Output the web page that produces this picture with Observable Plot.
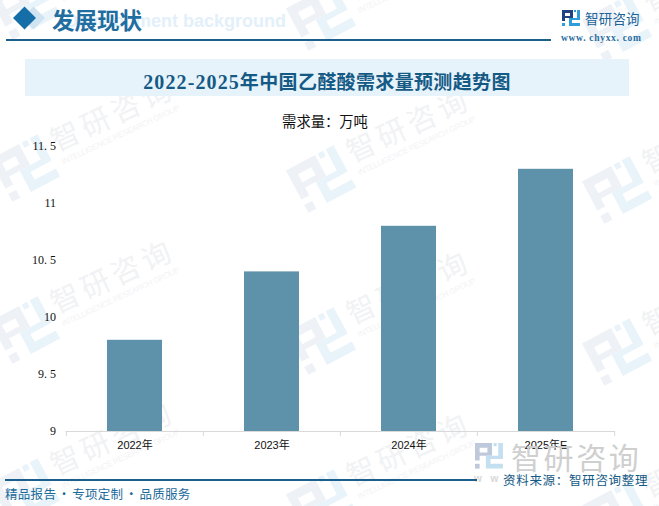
<!DOCTYPE html>
<html><head><meta charset="utf-8">
<script src="https://cdn.jsdelivr.net/npm/d3@7"></script>
<script src="https://cdn.jsdelivr.net/npm/@observablehq/plot@0.6"></script>
<style>
html,body{margin:0;padding:0;background:#fff;}
#page{position:relative;width:659px;height:506px;overflow:hidden;font-family:"Noto Sans CJK SC",sans-serif;}
#page>*{position:absolute;}
#chart{left:0;top:120px;}
#chart svg{background:transparent;display:block;}
</style></head><body>
<div id="page">
<svg id="wmark" width="659" height="506" style="left:0;top:0"></svg>
<div style="left:25px;top:59px;width:604px;height:37px;background:#e6f3fb"></div>
<div style="left:6px;top:39px;width:545px;height:1.5px;background:#1b5f8c"></div>
<div style="left:65px;top:11px;font:700 18px 'Liberation Sans';color:#e3f0fa;white-space:nowrap">Development background</div>
<svg style="left:10px;top:5px" width="40" height="28"><path d="M23.5 1.5 L35 13 L23.5 24.5 L12 13Z" fill="#cfe3f0"/><path d="M14.5 1.5 L26 13 L14.5 24.5 L3 13Z" fill="#156ea8"/></svg>
<div style="left:52px;top:4px;font:700 22.5px/30px 'Noto Sans CJK SC';color:#1f6e9f;white-space:nowrap">发展现状</div>
<div style="left:25px;top:59px;width:604px;text-align:center;font:700 19px/44px 'Noto Sans CJK SC';letter-spacing:.35px;color:#155a85;white-space:nowrap" id="title"><span style="font:700 20px 'Liberation Serif';letter-spacing:1.1px">2022-2025</span>年中国乙醛酸需求量预测趋势图</div>
<svg style="left:562px;top:10px" width="18" height="16"><path d="M0 0H11V8H3V6H8V3H3V11H0Z" fill="#23407f"/><path d="M0 13H3V16H0ZM12 0H14V2H12ZM15 0H18V10H10V13H18V16H7V8H15Z" fill="#2f9ed8"/></svg>
<div style="left:585px;top:9px;font:400 13.5px/18px 'Noto Sans CJK SC';letter-spacing:.2px;color:#1c649a;white-space:nowrap">智研咨询</div>
<div style="left:561px;top:32px;font:700 9.5px/12px 'Liberation Serif';letter-spacing:.7px;color:#2a6d9e;white-space:nowrap">www. chyxx. com</div>
<div style="left:0;top:112px;width:650px;text-align:center;font:400 14.3px/18px 'Noto Sans CJK SC';color:#111;" id="unit">需求量：万吨</div>
<div id="chart"></div>
<svg style="left:475px;top:443px" width="30" height="28"><g transform="scale(1.55,1.6)"><path d="M0 0H11V8H3V6H8V3H3V11H0Z" fill="#bfc9dc"/><path d="M0 13H3V16H0Z" fill="#bfc9dc"/><path d="M12 0H14V2H12ZM15 0H18V10H10V13H18V16H7V8H15Z" fill="#c4dff0"/></g></svg>
<div style="left:511px;top:438px;font:400 30px/36px 'Noto Sans CJK SC';letter-spacing:2.6px;color:#cfcfcf;white-space:nowrap">智研咨询</div>
<div style="left:474px;top:472px;font:700 10px/14px 'Liberation Sans';letter-spacing:3px;color:#d8d8d8;white-space:nowrap">w w w</div>
<div style="left:5px;top:479px;width:472px;height:1.5px;background:#1b5f8c"></div>
<div style="left:503px;top:471px;font:400 12.5px/18px 'Noto Sans CJK SC';letter-spacing:.7px;color:#155a85;white-space:nowrap">资料来源：智研咨询整理</div>
<div style="left:5px;top:485px;font:400 12.5px/18px 'Noto Sans CJK SC';letter-spacing:.3px;word-spacing:-1.5px;color:#1b6a99;white-space:nowrap">精品报告 · 专项定制 · 品质服务</div>
</div>
<script>
const categories = ["2022年","2023年","2024年","2025年E"];
const demand = [9.8,10.4,10.8,11.3];
const yTicks = [9,9.5,10,10.5,11,11.5];
const yTickLabels = ["9","9. 5","10","10. 5","11","11. 5"];
const table = categories.map((c,i)=>({c,v:demand[i]}));
const step = 137.25;
const plot = Plot.plot({
  width:659,height:345,
  marginLeft:65.5,marginRight:44.5,marginTop:26,marginBottom:34,
  style:{background:"transparent"},
  x:{domain:categories,paddingInner:0.6,paddingOuter:0.3,label:null,tickSize:0},
  y:{domain:[9,11.5],label:null},
  marks:[
    Plot.barY(table,{x:"c",y1:9,y2:"v",fill:"#5d92aa"}),
    Plot.ruleY([9],{stroke:"#d9d9d9"}),
    Plot.ruleX(categories,{x:d=>d,y1:9,y2:8.955,stroke:"#d9d9d9",dx:-step/2}),
    Plot.ruleX(categories.slice(-1),{x:d=>d,y1:9,y2:8.955,stroke:"#d9d9d9",dx:step/2}),
    Plot.axisX({tickSize:0,tickPadding:10,fontSize:11,fontFamily:"'Liberation Sans','Noto Sans CJK SC'",fill:"#111",label:null}),
    Plot.axisY({ticks:yTicks,tickSize:0,tickPadding:10,tickFormat:d=>yTickLabels[yTicks.indexOf(d)],fontSize:12,fontFamily:"'Liberation Serif'",fill:"#111",label:null})
  ]
});
document.getElementById("chart").appendChild(plot);
// watermark decoration
const wm = d3.select("#wmark");
for(let r=0;r<4;r++) for(let c=0;c<3;c++){
  const x=25+296*c, y=6+162*r+11*c;
  const lg = wm.append("g").attr("transform",`translate(${x},${y}) rotate(-28) scale(3) translate(-9,-8)`);
  lg.append("path").attr("d","M0 0H11V8H3V6H8V3H3V11H0ZM0 13H3V16H0Z").attr("fill","#eef2f7");
  lg.append("path").attr("d","M12 0H14V2H12ZM15 0H18V10H10V13H18V16H7V8H15Z").attr("fill","#e9f4fa");
  const g = wm.append("g").attr("transform",`translate(${x+40},${y-31}) rotate(-25)`);
  g.append("text").text("智研咨询").attr("x",-14).attr("y",10).attr("font-family","Noto Sans CJK SC").attr("font-size",29).attr("letter-spacing",4.4).attr("fill","#f1f2f4");
  g.append("text").text("INTELLIGENCE RESEARCH GROUP").attr("x",-13).attr("y",24).attr("font-family","Liberation Sans").attr("font-size",8).attr("textLength",129).attr("fill","#f3f3f5");
}
</script>
</body></html>
